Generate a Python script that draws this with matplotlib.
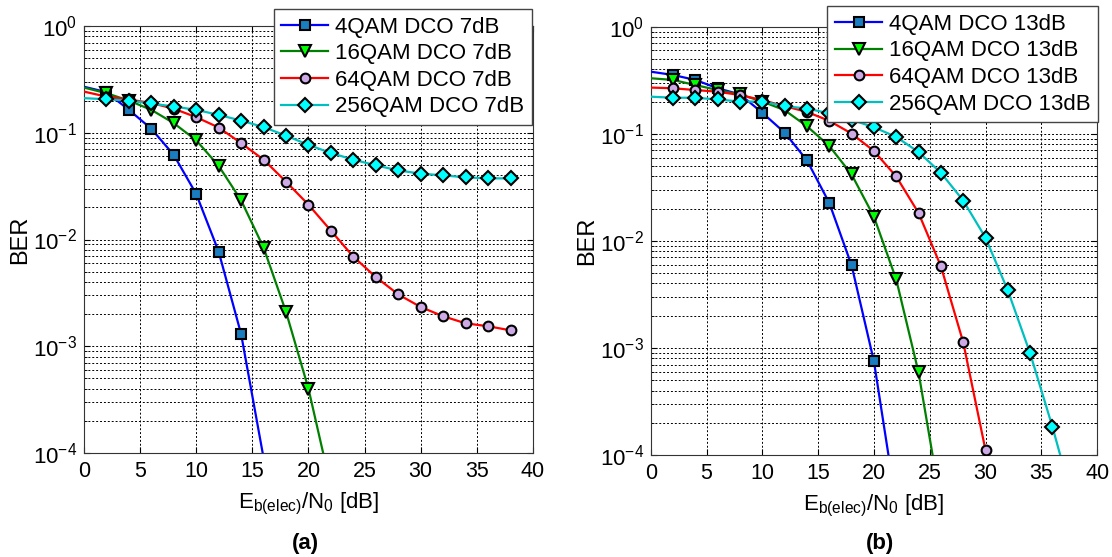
import numpy as np
import matplotlib
matplotlib.use('Agg')
import matplotlib.pyplot as plt
from matplotlib.lines import Line2D
from matplotlib.ticker import LogLocator, FixedLocator, NullFormatter

plt.rcParams['font.family'] = ['Liberation Sans', 'DejaVu Sans']
plt.rcParams['mathtext.fontset'] = 'custom'
plt.rcParams['mathtext.rm'] = 'Liberation Sans'
plt.rcParams['mathtext.default'] = 'regular'

# Данные (a): DCO 7 dB
snr_a_4 = np.arange(0, 17, 2)
ber_a_4 = [0.27, 0.24, 0.164, 0.109, 0.062, 0.0267, 0.0077, 0.0013, 9e-5]
snr_a_16 = np.arange(0, 23, 2)
ber_a_16 = [0.265, 0.235, 0.20, 0.164, 0.123, 0.085, 0.049, 0.0233, 0.0084, 0.0021, 0.00040, 4.8e-5]
snr_a_64 = np.arange(0, 39, 2)
ber_a_64 = [0.243, 0.218, 0.205, 0.19, 0.168, 0.14, 0.112, 0.080, 0.056, 0.0348,
            0.0212, 0.0121, 0.0069, 0.00445, 0.00306, 0.00233, 0.00191, 0.00164, 0.00154, 0.00141]
snr_a_256 = np.arange(0, 39, 2)
ber_a_256 = [0.211, 0.206, 0.20, 0.188, 0.176, 0.164, 0.147, 0.130, 0.113, 0.094,
             0.077, 0.0646, 0.056, 0.0495, 0.0444, 0.0414, 0.0399, 0.0382, 0.0374, 0.0374]

# Данные (b): DCO 13 dB
snr_b_4 = np.arange(0, 23, 2)
ber_b_4 = [0.38, 0.354, 0.318, 0.266, 0.233, 0.157, 0.1025, 0.0564, 0.0226, 0.0059, 0.00075, 3.4e-5]
snr_b_16 = np.arange(0, 27, 2)
ber_b_16 = [0.33, 0.318, 0.285, 0.256, 0.233, 0.20, 0.166, 0.1175, 0.0769, 0.0417,
            0.0168, 0.00436, 0.00059, 3.5e-5]
snr_b_64 = np.arange(0, 31, 2)
ber_b_64 = [0.27, 0.266, 0.256, 0.247, 0.23, 0.206, 0.181, 0.160, 0.132, 0.1004,
            0.069, 0.0399, 0.0182, 0.0058, 0.00113, 0.000111]
snr_b_256 = np.arange(0, 39, 2)
ber_b_256 = [0.222, 0.217, 0.217, 0.209, 0.20, 0.2, 0.181, 0.172, 0.155, 0.135,
             0.115, 0.0934, 0.0675, 0.0432, 0.0238, 0.0107, 0.00344, 0.00089, 0.000183, 3.2e-5]

names = ['4QAM', '16QAM', '64QAM', '256QAM']
line_colors = ['#0000FF', '#008000', '#FF0000', '#00BFBF']
face_colors = ['#1A7DC0', '#00FF00', '#CDA9E6', '#00FFFF']
markers = ['s', 'v', 'o', 'D']
msizes = [7, 8.5, 7, 7.5]


def draw(ax, series, clip_db, legend_anchor, ylabel_x):
    handles = []
    for (x, y), name, lc, fc, m, ms in zip(series, names, line_colors, face_colors, markers, msizes):
        x = np.asarray(x)
        y = np.asarray(y)
        ax.plot(x, y, color=lc, linewidth=1.6, zorder=3)
        keep = (x > 0) & (y >= 1e-4)
        ax.plot(x[keep], y[keep], linestyle='none', marker=m, markersize=ms,
                markerfacecolor=fc, markeredgecolor='black', markeredgewidth=1.5, zorder=4)
        handles.append(Line2D([], [], color=lc, linewidth=1.6, marker=m, markersize=ms,
                              markerfacecolor=fc, markeredgecolor='black', markeredgewidth=1.5,
                              label=f'{name} DCO {clip_db}dB'))

    ax.set_yscale('log')
    ax.set_xlim(0, 40)
    ax.set_ylim(1e-4, 1)
    ax.xaxis.set_major_locator(FixedLocator(np.arange(0, 41, 5)))
    ax.yaxis.set_major_locator(LogLocator(base=10, numticks=10))
    ax.yaxis.set_minor_locator(LogLocator(base=10, subs=np.arange(2, 10), numticks=10))
    ax.yaxis.set_minor_formatter(NullFormatter())
    ax.grid(True, which='major', color='black', linestyle=(0, (2, 2)), linewidth=0.7)
    ax.grid(True, which='minor', axis='y', color='black', linestyle=(0, (2, 2)), linewidth=0.7)
    ax.tick_params(which='both', direction='in', top=True, right=True)
    ax.tick_params(axis='x', labelsize=15.5, pad=6)
    ax.tick_params(axis='y', labelsize=16, pad=5)
    ax.tick_params(which='major', length=4)
    ax.tick_params(which='minor', length=2)
    for s in ax.spines.values():
        s.set_color('#333333')
    ax.set_xlabel('E$_{b(elec)}$/N$_{0}$ [dB]', fontsize=16, labelpad=6)
    ax.set_ylabel('BER', fontsize=17)
    ax.yaxis.set_label_coords(ylabel_x, 0.5)

    leg = ax.legend(handles=handles, loc='upper right', bbox_to_anchor=legend_anchor,
                    borderaxespad=0, fontsize=16, handlelength=2.1, handletextpad=0.3,
                    labelspacing=0.25, borderpad=0.35, fancybox=False, framealpha=1)
    leg.get_frame().set_edgecolor('#444444')
    leg.get_frame().set_linewidth(1.0)
    leg.set_zorder(10)


fig = plt.figure(figsize=(11.12, 5.57), dpi=100)
ax_a = fig.add_axes([0.0755, 0.1867, 0.4038, 0.7666])
ax_b = fig.add_axes([0.5852, 0.1831, 0.4014, 0.769])

draw(ax_a, [(snr_a_4, ber_a_4), (snr_a_16, ber_a_16), (snr_a_64, ber_a_64), (snr_a_256, ber_a_256)],
     7, (0.997, 1.04), -0.117)
draw(ax_b, [(snr_b_4, ber_b_4), (snr_b_16, ber_b_16), (snr_b_64, ber_b_64), (snr_b_256, ber_b_256)],
     13, (1.002, 1.048), -0.117)

fig.text(305 / 1112, 1 - 543 / 557, '(a)', fontsize=16, fontweight='bold', ha='center', va='center')
fig.text(880 / 1112, 1 - 543 / 557, '(b)', fontsize=16, fontweight='bold', ha='center', va='center')

fig.savefig('out.png', dpi=100)
